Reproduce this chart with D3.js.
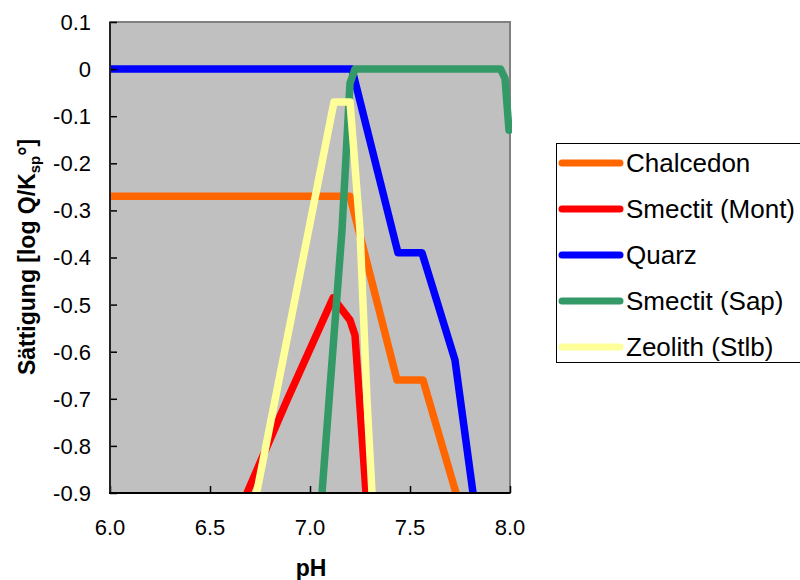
<!DOCTYPE html>
<html>
<head>
<meta charset="utf-8">
<script src="https://cdn.jsdelivr.net/npm/d3@7"></script>
<style>
  html, body { margin: 0; padding: 0; background: #fff; }
  svg { display: block; font-family: Arial, "Liberation Sans", sans-serif; }
</style>
</head>
<body>
<svg id="chart" width="800" height="580"></svg>
<script>
// Saturation indices (log Q/Ksp) against pH for each mineral phase
const seriesNames = ["Chalcedon", "Smectit (Mont)", "Quarz", "Smectit (Sap)", "Zeolith (Stlb)"];
const seriesColors = ["#FF6600", "#FF0000", "#0000FF", "#339966", "#FFFF99"];

const chalcedonPH  = [6.0, 7.2, 7.435, 7.565, 7.73];
const chalcedonSat = [-0.27, -0.27, -0.66, -0.66, -0.9];

const montPH  = [6.685, 6.885, 7.115, 7.2, 7.225, 7.28];
const montSat = [-0.9, -0.703, -0.486, -0.533, -0.565, -0.9];

const quarzPH  = [6.0, 7.21, 7.44, 7.56, 7.725, 7.815];
const quarzSat = [0, 0, -0.39, -0.39, -0.618, -0.9];

const sapPH  = [7.06, 7.16, 7.2, 7.225, 7.953, 7.975, 7.995];
const sapSat = [-0.9, -0.342, -0.03, 0, 0, -0.02, -0.13];

const stlbPH  = [6.733, 7.12, 7.2, 7.25, 7.285, 7.31];
const stlbSat = [-0.9, -0.07, -0.07, -0.342, -0.703, -0.9];

const xTicks = [6.0, 6.5, 7.0, 7.5, 8.0];
const yTicks = [0.1, 0, -0.1, -0.2, -0.3, -0.4, -0.5, -0.6, -0.7, -0.8, -0.9];

const seriesPH  = [chalcedonPH, montPH, quarzPH, sapPH, stlbPH];
const seriesSat = [chalcedonSat, montSat, quarzSat, sapSat, stlbSat];

const series = seriesNames.map((name, i) => ({
  name,
  color: seriesColors[i],
  points: seriesPH[i].map((ph, j) => ({ ph, sat: seriesSat[i][j] }))
}));

const svg = d3.select("#chart");
const plot = { left: 110, right: 510, top: 22, bottom: 493 };

const x = d3.scaleLinear().domain([6, 8]).range([plot.left, plot.right]);
const y = d3.scaleLinear().domain([-0.9, 0.1]).range([plot.bottom, plot.top]);

// plot area
svg.append("rect")
  .attr("x", plot.left).attr("y", plot.top)
  .attr("width", plot.right - plot.left).attr("height", plot.bottom - plot.top)
  .attr("fill", "#C0C0C0").attr("stroke", "#808080").attr("stroke-width", 2);

svg.append("clipPath").attr("id", "plotClip")
  .append("rect")
  .attr("x", plot.left).attr("y", plot.top)
  .attr("width", plot.right - plot.left + 2).attr("height", plot.bottom - plot.top);

// series lines, first series at the back
const line = d3.line().x(d => x(d.ph)).y(d => y(d.sat));
svg.append("g").attr("clip-path", "url(#plotClip)")
  .selectAll("path").data(series).join("path")
  .attr("d", d => line(d.points))
  .attr("fill", "none")
  .attr("stroke", d => d.color)
  .attr("stroke-width", 7.5)
  .attr("stroke-linejoin", "round")
  .attr("stroke-linecap", "round");

// axes with inside ticks
const yAxis = d3.axisRight(y).tickValues(yTicks).tickSize(7).tickFormat(() => "");
const xAxis = d3.axisTop(x).tickValues(xTicks).tickSize(7).tickFormat(() => "");

const gy = svg.append("g").attr("transform", `translate(${plot.left},0)`).call(yAxis);
gy.select(".domain").remove();
gy.selectAll(".tick line").attr("stroke", "#000").attr("stroke-width", 1.5);

const gx = svg.append("g").attr("transform", `translate(0,${plot.bottom})`).call(xAxis);
gx.select(".domain").remove();
gx.selectAll(".tick line").attr("stroke", "#000").attr("stroke-width", 1.5);

svg.append("line")
  .attr("x1", plot.left).attr("x2", plot.left)
  .attr("y1", plot.top).attr("y2", plot.bottom + 1)
  .attr("stroke", "#222").attr("stroke-width", 2);
svg.append("line")
  .attr("x1", plot.left - 1).attr("x2", plot.right)
  .attr("y1", plot.bottom).attr("y2", plot.bottom)
  .attr("stroke", "#000").attr("stroke-width", 2);

// tick labels
svg.append("g").selectAll("text").data(yTicks).join("text")
  .attr("x", plot.left - 19)
  .attr("y", d => y(d))
  .attr("dy", "0.36em")
  .attr("text-anchor", "end")
  .attr("font-size", 22)
  .text(d => d3.format(".1~f")(d).replace("−", "-"));

svg.append("g").selectAll("text").data(xTicks).join("text")
  .attr("x", d => x(d))
  .attr("y", 535)
  .attr("text-anchor", "middle")
  .attr("font-size", 22)
  .text(d => d3.format(".1f")(d));

// axis titles
svg.append("text")
  .attr("x", 311).attr("y", 576)
  .attr("text-anchor", "middle")
  .attr("font-size", 23).attr("font-weight", "bold")
  .text("pH");

const yTitle = svg.append("text")
  .attr("transform", "translate(35,257) rotate(-90)")
  .attr("text-anchor", "middle")
  .attr("font-size", 23).attr("font-weight", "bold");
yTitle.append("tspan").text("Sättigung [log Q/K");
yTitle.append("tspan").attr("font-size", 15).attr("dy", 5).text("sp");
yTitle.append("tspan").attr("dy", -5).text("°]");

// legend
const legend = svg.append("g");
legend.append("rect")
  .attr("x", 556.5).attr("y", 143.5)
  .attr("width", 260).attr("height", 219)
  .attr("fill", "#fff").attr("stroke", "#000").attr("stroke-width", 1);

const items = legend.selectAll("g.item").data(series).join("g")
  .attr("class", "item")
  .attr("transform", (d, i) => `translate(0,${163 + i * 46})`);
items.append("line")
  .attr("x1", 562).attr("x2", 620)
  .attr("stroke", d => d.color)
  .attr("stroke-width", 7)
  .attr("stroke-linecap", "round");
items.append("text")
  .attr("x", 626).attr("dy", "0.36em")
  .attr("font-size", 26)
  .text(d => d.name);
</script>
</body>
</html>
